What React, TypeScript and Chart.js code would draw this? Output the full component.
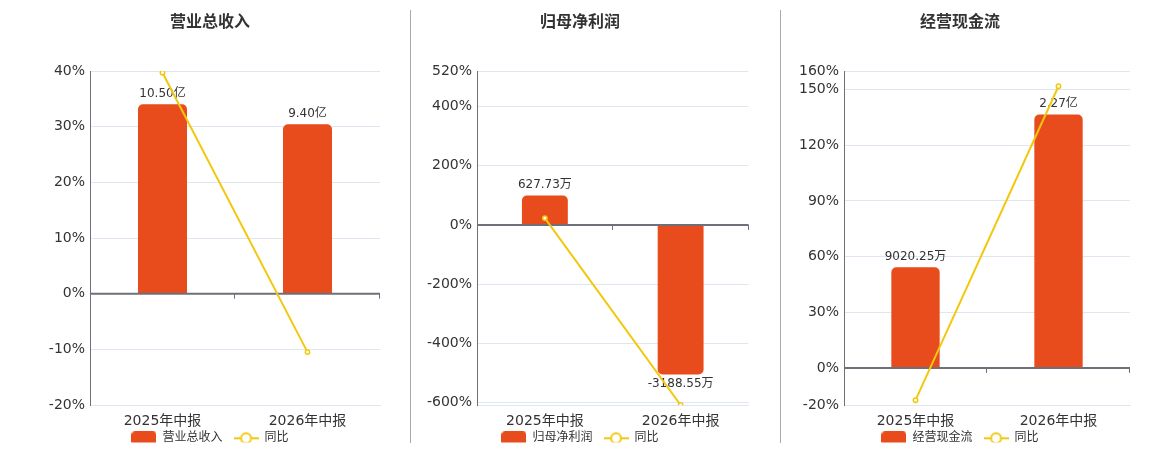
import { useEffect, useRef } from 'react';
import { Chart, registerables } from 'chart.js';

Chart.register(...registerables);

// values in 万元, yoy in %
const categories = ['2025年中报', '2026年中报'];

const revenue = [105000, 94000];
const revenueYoy = [39.7, -10.5];
const revenueTicks = [-20, -10, 0, 10, 20, 30, 40];

const profit = [627.73, -3188.55];
const profitYoy = [23, -608.5];
const profitTicks = [-600, -400, -200, 0, 200, 400, 520];

const cashflow = [9020.25, 22700];
const cashflowYoy = [-17.4, 151.8];
const cashflowTicks = [-20, 0, 30, 60, 90, 120, 150, 160];

const BAR = '#E84B1C';
const LINE = '#F2C80F';
const AXIS = '#6E7079';
const GRID = '#E0E6F1';
const TEXT = '#333';
const FONT = '"DejaVu Sans", "Noto Sans CJK SC", sans-serif';

Chart.defaults.font.family = FONT;
Chart.defaults.color = TEXT;

function fmt(v: number) {
  return Math.abs(v) >= 10000 ? (v / 10000).toFixed(2) + '亿' : v.toFixed(2) + '万';
}

function barSwatch() {
  const c = document.createElement('canvas');
  c.width = 25;
  c.height = 14;
  const g = c.getContext('2d')!;
  g.fillStyle = BAR;
  g.beginPath();
  g.roundRect(0, 0, 25, 14, 4);
  g.fill();
  return c;
}

function lineSwatch() {
  const c = document.createElement('canvas');
  c.width = 25;
  c.height = 14;
  const g = c.getContext('2d')!;
  g.strokeStyle = LINE;
  g.lineWidth = 2;
  g.beginPath();
  g.moveTo(0, 7);
  g.lineTo(25, 7);
  g.stroke();
  g.beginPath();
  g.arc(12.5, 7, 5, 0, Math.PI * 2);
  g.fillStyle = '#fff';
  g.fill();
  g.stroke();
  return c;
}

// zero axis line, category ticks on it, and bar value labels
const zeroAxis = {
  id: 'zeroAxis',
  afterLayout(chart: any) {
    // pull the legend up a bit, the x labels sit close above it
    const lg = chart.legend;
    if (lg) {
      lg.top -= 7.5;
      lg.bottom -= 7.5;
    }
  },
  afterDatasetDraw(chart: any, args: any) {
    if (args.index !== 0) return;
    const { ctx, chartArea: a, scales } = chart;
    const y0 = scales.y.getPixelForValue(0);
    ctx.save();
    ctx.strokeStyle = AXIS;
    ctx.lineWidth = 2;
    ctx.beginPath();
    ctx.moveTo(a.left, y0);
    ctx.lineTo(a.right, y0);
    ctx.stroke();
    ctx.lineWidth = 1;
    const n = chart.data.labels.length;
    for (let i = 0; i < n; i++) {
      const x = Math.round(scales.x.getPixelForValue(i + 0.5)) - 0.5;
      ctx.beginPath();
      ctx.moveTo(x, y0);
      ctx.lineTo(x, y0 + 5);
      ctx.stroke();
    }
    const data = chart.data.datasets[0].data as number[];
    ctx.fillStyle = TEXT;
    ctx.font = '12px ' + FONT;
    ctx.textAlign = 'center';
    ctx.textBaseline = 'middle';
    chart.getDatasetMeta(0).data.forEach((bar: any, i: number) => {
      const v = data[i];
      ctx.fillText(fmt(v), bar.x, v >= 0 ? bar.y - 10.5 : bar.y + 9.5);
    });
    ctx.restore();
  },
};

type PanelProps = {
  title: string;
  name: string;
  bars: number[];
  yoy: number[];
  ticks: number[];
  barTop: number;
  yWidth: number;
  padRight: number;
  left: number;
  width: number;
};

function Panel({ title, name, bars, yoy, ticks, barTop, yWidth, padRight, left, width }: PanelProps) {
  const canvasRef = useRef<HTMLCanvasElement>(null);

  useEffect(() => {
    const canvas = canvasRef.current;
    if (!canvas) return;
    const yMin = Math.min(ticks[0], ...yoy);
    const yMax = ticks[ticks.length - 1];
    const chart = new Chart(canvas, {
      type: 'bar',
      data: {
        labels: categories,
        datasets: [
          {
            type: 'bar',
            label: name,
            data: bars,
            backgroundColor: BAR,
            borderRadius: 5,
            borderSkipped: 'start',
            barPercentage: 0.338,
            categoryPercentage: 1,
            yAxisID: 'y1',
            order: 1,
          },
          {
            type: 'line',
            label: '同比',
            data: yoy,
            borderColor: LINE,
            borderWidth: 2,
            pointRadius: 2.2,
            pointBorderWidth: 1.5,
            pointBackgroundColor: '#fff',
            pointBorderColor: LINE,
            yAxisID: 'y',
            order: 0,
          },
        ] as any,
      },
      options: {
        animation: false,
        responsive: false,
        layout: { padding: 0 },
        plugins: {
          title: {
            display: true,
            text: title,
            color: '#333',
            font: { size: 16, weight: 'bold' },
            padding: { top: 13.4, bottom: 38.4 },
          },
          legend: {
            position: 'bottom',
            maxHeight: 21.2,
            labels: {
              usePointStyle: true,
              pointStyleWidth: 25,
              padding: 11,
              color: TEXT,
              font: { size: 12 },
              generateLabels: (c: any) => {
                const items = Chart.defaults.plugins.legend.labels.generateLabels(c);
                items.sort((p: any, q: any) => p.datasetIndex - q.datasetIndex);
                items.forEach((it: any) => {
                  it.pointStyle = it.datasetIndex === 0 ? barSwatch() : lineSwatch();
                  it.fontColor = TEXT;
                });
                return items;
              },
            },
          },
          tooltip: { enabled: false },
        },
        scales: {
          x: {
            grid: { display: false, drawTicks: false },
            border: { color: GRID, width: 1 },
            ticks: { padding: 8, font: { size: 14 }, color: TEXT },
            afterFit: (s: any) => {
              s.height = 23.8;
            },
          },
          y: {
            position: 'left',
            min: yMin,
            max: yMax,
            grid: { color: GRID, lineWidth: 1, drawTicks: false },
            border: { color: AXIS, width: 1 },
            ticks: {
              padding: 5,
              font: { size: 14 },
              color: TEXT,
              callback: (v: any) => v + '%',
            },
            afterBuildTicks: (s: any) => {
              s.ticks = ticks.map((v) => ({ value: v }));
            },
            afterFit: (s: any) => {
              s.width = yWidth;
            },
          },
          // bar axis: invisible, only keeps the right margin
          y1: {
            position: 'right',
            min: (barTop * yMin) / yMax,
            max: barTop,
            grid: { display: false, drawTicks: false },
            border: { display: false },
            ticks: { display: false },
            afterFit: (s: any) => {
              s.width = padRight;
            },
          },
        },
      } as any,
      plugins: [zeroAxis],
    });
    return () => {
      chart.destroy();
    };
  }, [title, name, bars, yoy, ticks, barTop, yWidth, padRight]);

  return (
    <div style={{ position: 'absolute', left, top: 0, width, height: 450 }}>
      <canvas ref={canvasRef} width={width} height={450} />
    </div>
  );
}

export default function App() {
  return (
    <div style={{ position: 'absolute', left: 0, top: 0, width: 1160, height: 450, background: '#fff' }}>
      <Panel title="营业总收入" name="营业总收入" bars={revenue} yoy={revenueYoy} ticks={revenueTicks}
        barTop={123500} yWidth={80} padRight={30} left={10} width={400} />
      <Panel title="归母净利润" name="归母净利润" bars={profit} yoy={profitYoy} ticks={profitTicks}
        barTop={3283} yWidth={71} padRight={4} left={406} width={348} />
      <Panel title="经营现金流" name="经营现金流" bars={cashflow} yoy={cashflowYoy} ticks={cashflowTicks}
        barTop={26590} yWidth={64} padRight={10} left={780} width={360} />
      <div style={{ position: 'absolute', left: 410, top: 10, width: 1, height: 433, background: '#aaa' }} />
      <div style={{ position: 'absolute', left: 780, top: 10, width: 1, height: 433, background: '#aaa' }} />
    </div>
  );
}
